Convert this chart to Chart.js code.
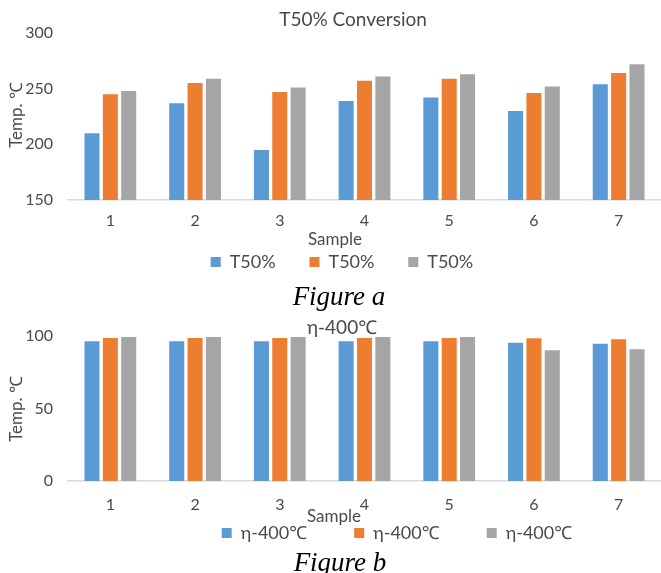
<!DOCTYPE html>
<html><head><meta charset="utf-8">
<script src="https://cdn.jsdelivr.net/npm/chart.js@4"></script>
<style>
html,body{margin:0;padding:0;background:#fff;overflow:hidden;width:661px;height:573px;position:relative}
canvas{position:absolute;left:0}
#ca{top:0}
#cb{top:300px}
.fig{position:absolute;width:240px;text-align:center;font-family:"Liberation Serif","Times New Roman",serif;font-style:italic;font-size:27px;line-height:30px;color:#000}
</style></head><body>
<canvas id="ca"></canvas>
<canvas id="cb"></canvas>
<div class="fig" style="left:219px;top:281px">Figure a</div>
<div class="fig" style="left:220px;top:547px">Figure b</div>
<script>
// ---- data ----
const categories = ['1', '2', '3', '4', '5', '6', '7'];
const t50Blue   = [210, 237, 195, 239, 242, 230, 254];
const t50Orange = [245, 255, 247, 257, 259, 246, 264];
const t50Gray   = [248, 259, 251, 261, 263, 252, 272];
const etaBlue   = [96.3, 96.3, 96.3, 96.3, 96.3, 95.4, 94.7];
const etaOrange = [98.6, 98.6, 98.6, 98.6, 98.6, 98.4, 97.7];
const etaGray   = [99.3, 99.3, 99.3, 99.3, 99.3, 90.1, 90.8];
const seriesNamesA = ['T50%', 'T50%', 'T50%'];
const seriesNamesB = ['η-400℃', 'η-400℃', 'η-400℃'];
const yTicksA = [150, 200, 250, 300];
const yTicksB = [0, 50, 100];
const titleA = 'T50% Conversion';
const titleB = 'η-400℃';
const xTitle = 'Sample';
const yTitle = 'Temp. ℃';

// ---- style ----
const COLORS = ['#5B9BD5', '#ED7D31', '#A5A5A5'];
const FF = "Lato, 'Noto Sans', 'DejaVu Sans', sans-serif";
const TXT = '#4a4a4a';
const W = 661;

function textW(t, fs) {
  const c = document.createElement('canvas').getContext('2d');
  c.font = fs + 'px ' + FF;
  return c.measureText(t).width;
}

function wrap(obj, method, delta) {
  if (!obj || obj['_w_' + method]) return;
  const orig = obj[method];
  obj['_w_' + method] = true;
  obj[method] = function (...a) {
    const [dx, dy] = delta(this);
    const ctx = this.ctx;
    ctx.save();
    ctx.translate(dx, dy);
    try { orig.apply(this, a); } finally { ctx.restore(); }
  };
}

const placer = {
  id: 'placer',
  beforeLayout(chart, args, o) {
    const L = chart.legend;
    if (L && !L._fitW) {
      const f = L.fit;
      L.fit = function () { f.call(this); this.height = o.legendH; };
      L._fitW = true;
    }
  },
  afterLayout(chart, args, o) {
    wrap(chart.titleBlock, 'draw', (t) => [o.title.x - (t.left + t.right) / 2, o.title.y - (t.top + o.titlePadTop + o.titleFs * 0.6)]);
    if (chart.legend && !chart.legend._w_draw) {
      const L = chart.legend;
      const orig = L.draw;
      L._w_draw = true;
      L.draw = function (...a) {
        const pad = o.legendPad;
        const start = (this.left + pad + this.right - this.lineWidths[0]) / 2;
        const dx = o.legend.x - start;
        const dy = o.legend.y - (this.top + pad + o.legendFs / 2);
        const ctx = this.ctx;
        const sb = this.bottom;
        ctx.save();
        ctx.translate(dx, dy);
        this.bottom = this.top + 400; // widen the clip box so the moved items are not cut
        try { orig.apply(this, a); } finally { this.bottom = sb; ctx.restore(); }
      };
    }
    wrap(chart.scales.x, 'drawTitle', (s) => [o.xTitle.x - (s.left + s.right) / 2, o.xTitle.y - (s.bottom - o.xTitleFs * 0.6)]);
    wrap(chart.scales.y, 'drawTitle', (s) => [o.yTitle.x - (s.left + o.yTitleFs * 0.6), o.yTitle.y - (s.top + s.bottom) / 2]);
  }
};

function makeChart(id, p) {
  const cv = document.getElementById(id);
  const H = p.plotBottom + p.xH + p.legendH;
  cv.width = W; cv.height = H;
  cv.style.width = W + 'px'; cv.style.height = H + 'px';
  const itemW = p.boxW + p.legendFs / 2 + textW(p.names[0], p.legendFs);
  const legendPad = Math.max(2, p.pitch - itemW);
  const titlePadTop = p.titlePadTop;
  const titlePadBottom = p.plotTop - titlePadTop - p.titleFs * 1.2;
  return new Chart(cv, {
    type: 'bar',
    data: {
      labels: categories,
      datasets: p.values.map((v, i) => ({
        label: p.names[i], data: v, backgroundColor: COLORS[i], borderWidth: 0,
        categoryPercentage: 0.65, barPercentage: 0.82
      }))
    },
    plugins: [placer],
    options: {
      responsive: false, animation: false, devicePixelRatio: 1,
      layout: { padding: 0 },
      plugins: {
        tooltip: { enabled: false },
        title: {
          display: true, text: p.title, color: TXT,
          font: { family: FF, size: p.titleFs, weight: 'normal' },
          padding: { top: titlePadTop, bottom: titlePadBottom }
        },
        legend: {
          position: 'bottom',
          labels: {
            color: TXT, boxWidth: p.boxW, boxHeight: p.boxW, padding: legendPad,
            font: { family: FF, size: p.legendFs }
          }
        },
        placer: {
          legendH: p.legendH, legendPad, legendFs: p.legendFs, titleFs: p.titleFs, titlePadTop,
          title: p.titlePos, legend: p.legendPos, xTitle: p.xTitlePos, yTitle: p.yTitlePos,
          xTitleFs: p.xTitleFs, yTitleFs: p.yTitleFs
        }
      },
      scales: {
        x: {
          grid: { display: false, drawTicks: false },
          border: { display: true, color: '#D9D9D9', width: 1.5 },
          ticks: { color: TXT, font: { family: FF, size: p.tickFs }, padding: p.xTickPad },
          title: { display: true, text: xTitle, color: TXT, padding: 0, font: { family: FF, size: p.xTitleFs } },
          afterFit: (s) => { s.height = p.xH; }
        },
        y: {
          min: p.yTicks[0], max: p.yTicks[p.yTicks.length - 1],
          afterBuildTicks: (s) => { s.ticks = p.yTicks.map(v => ({ value: v })); },
          grid: { display: false, drawTicks: false },
          border: { display: false },
          ticks: { color: TXT, font: { family: FF, size: p.tickFs }, padding: 15 },
          title: { display: true, text: yTitle, color: TXT, padding: 0, font: { family: FF, size: p.yTitleFs } },
          afterFit: (s) => { s.width = 68; }
        }
      }
    }
  });
}

makeChart('ca', {
  values: [t50Blue, t50Orange, t50Gray], names: seriesNamesA, yTicks: yTicksA, title: titleA,
  plotTop: 33, plotBottom: 200, xH: 45, legendH: 30,
  titleFs: 19, titlePadTop: 6, legendFs: 18, boxW: 10, pitch: 98.8,
  tickFs: 16, xTickPad: 11, xTitleFs: 17, yTitleFs: 17,
  titlePos: { x: 353, y: 20 }, legendPos: { x: 210.7, y: 262 },
  xTitlePos: { x: 335, y: 240 }, yTitlePos: { x: 17, y: 115 }
});

makeChart('cb', {
  values: [etaBlue, etaOrange, etaGray], names: seriesNamesB, yTicks: yTicksB, title: titleB,
  plotTop: 36, plotBottom: 181, xH: 40, legendH: 30,
  titleFs: 19, titlePadTop: 8, legendFs: 18, boxW: 10, pitch: 132.5,
  tickFs: 16, xTickPad: 14, xTitleFs: 17, yTitleFs: 17,
  titlePos: { x: 342, y: 28.3 }, legendPos: { x: 221.7, y: 233 },
  xTitlePos: { x: 334, y: 217 }, yTitlePos: { x: 17, y: 109 }
});
</script>
</body></html>
